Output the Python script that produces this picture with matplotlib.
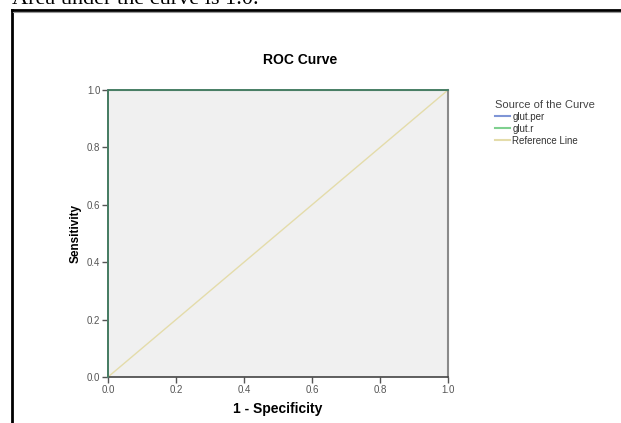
import matplotlib.pyplot as plt
from matplotlib.lines import Line2D

plt.rcParams['font.family'] = ['Liberation Sans', 'DejaVu Sans']

# ROC points (both curves hug the top-left corner, AUC = 1.0)
fpr_per = [0.0, 0.0, 1.0]
tpr_per = [0.0, 1.0, 1.0]
fpr_r = [0.0, 0.0, 1.0]
tpr_r = [0.0, 1.0, 1.0]
ref_x = [0.0, 1.0]
ref_y = [0.0, 1.0]
ticks = [0.0, 0.2, 0.4, 0.6, 0.8, 1.0]
series = ["glut.per", "glut.r", "Reference Line"]
colors = ["#7f95d6", "#7fd08f", "#e4dcaa"]

fig = plt.figure(figsize=(6.21, 4.23), dpi=100)
W, H = 621.0, 423.0

# caption text above the frame, cut off at the top like in the source
fig.text(12 / W, 1 - 4 / H, "Area under the curve is 1.0.", family="Liberation Serif",
         fontsize=16, ha="left", va="baseline")

# frame around the chart (left and top edges visible)
fig.add_artist(Line2D([11.5 / W, 11.5 / W], [0, 1 - 10.5 / H], color="black", lw=2, transform=fig.transFigure))
fig.add_artist(Line2D([11.5 / W, 620 / W], [1 - 10.5 / H, 1 - 10.5 / H], color="black", lw=2, transform=fig.transFigure))
fig.add_artist(Line2D([12.5 / W, 620 / W], [1 - 12 / H, 1 - 12 / H], color="#999999", lw=0.8, transform=fig.transFigure))

ax = fig.add_axes([108 / W, 1 - 377 / H, 340 / W, 287 / H])
ax.set_facecolor("#f0f0f0")

ax.plot(ref_x, ref_y, color=colors[2], lw=1.0, zorder=2)
ax.plot(fpr_per, tpr_per, color=colors[0], lw=1.2, clip_on=False, zorder=3)
ax.plot(fpr_r, tpr_r, color="#3f7a52", lw=1.2, clip_on=False, zorder=4)

ax.set_xlim(0, 1)
ax.set_ylim(0, 1)
ax.set_xticks(ticks)
ax.set_yticks(ticks)
ax.set_xticklabels(["%.1f" % t for t in ticks])
ax.set_yticklabels(["%.1f" % t for t in ticks])
ax.tick_params(direction="out", length=4, width=1, colors="#555555", labelsize=7, pad=1.5)

for side in ["left", "bottom"]:
    ax.spines[side].set_color("#444444")
    ax.spines[side].set_linewidth(1.2)
ax.spines["top"].set_color("#6a8a78")
ax.spines["right"].set_color("#8a8a8a")
ax.spines["right"].set_linewidth(1.5)

ax.set_xlabel("1 - Specificity", fontweight="bold", fontsize=10, labelpad=5)
ax.set_ylabel("Sensitivity", fontweight="bold", fontsize=8.5, labelpad=4)

fig.text(300 / W, 1 - 60 / H, "ROC Curve", fontweight="bold", fontsize=10, ha="center", va="center")

handles = [Line2D([0], [0], color=c, lw=1.5) for c in colors]
leg = fig.legend(handles, series, title="Source of the Curve", loc="upper left",
                 bbox_to_anchor=(488 / W, 1 - 93 / H), frameon=False, fontsize=7,
                 title_fontsize=8, handlelength=1.6, handletextpad=0.2, labelspacing=0.2,
                 borderpad=0.2)
leg._legend_box.align = "left"
for t in leg.get_texts():
    t.set_color("#333333")
leg.get_title().set_color("#444444")

fig.savefig("out.png", dpi=100)
